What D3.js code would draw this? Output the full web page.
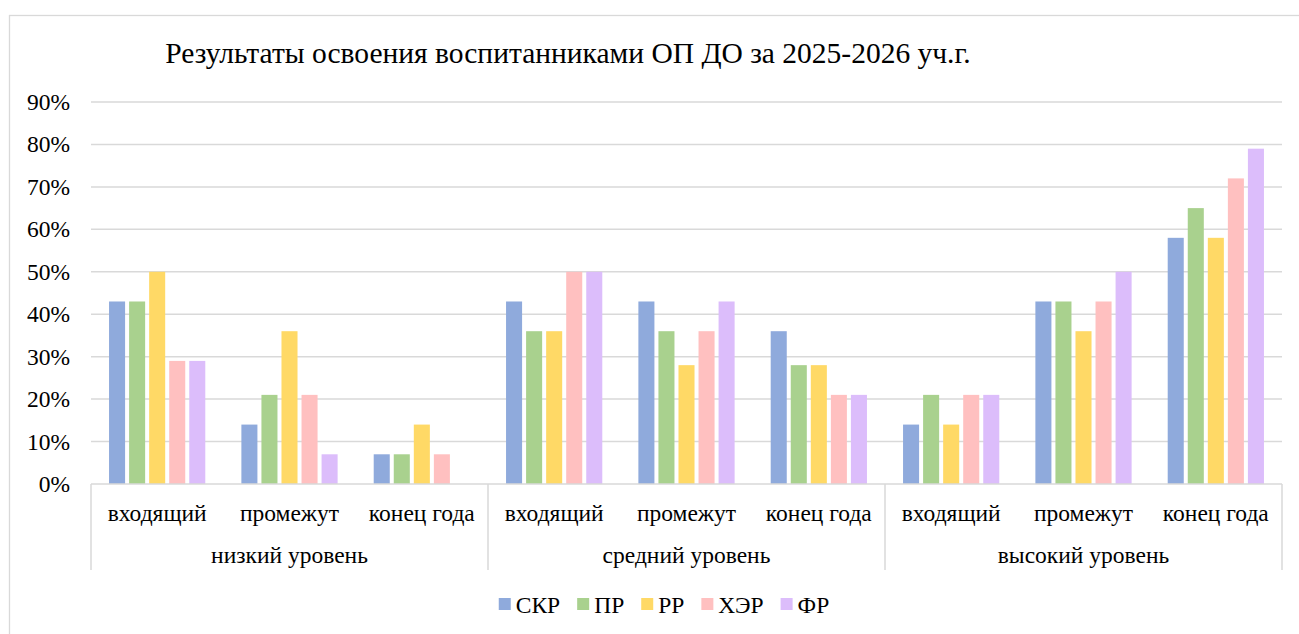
<!DOCTYPE html>
<html>
<head>
<meta charset="utf-8">
<script src="https://cdn.jsdelivr.net/npm/d3@7"></script>
<style>
  body { margin: 0; background: #fff; }
  svg { display: block; }
  svg text { font-family: 'Liberation Serif', 'Times New Roman', serif !important; }
</style>
</head>
<body>
<svg id="chart" width="1299" height="634"></svg>
<script>
const title = 'Результаты освоения воспитанниками ОП ДО за 2025-2026 уч.г.'
const levels = ['низкий уровень', 'средний уровень', 'высокий уровень']
const stages = ['входящий', 'промежут', 'конец года']
const seriesNames = ['СКР', 'ПР', 'РР', 'ХЭР', 'ФР']
const colors = ['#8faadc', '#a9d18e', '#ffd966', '#ffc0c0', '#dcbdfb']
const yTicks = [0, 0.1, 0.2, 0.3, 0.4, 0.5, 0.6, 0.7, 0.8, 0.9]

// values per series, ordered level by level, stage by stage
const skr = [0.43, 0.14, 0.07, 0.43, 0.43, 0.36, 0.14, 0.43, 0.58]
const pr = [0.43, 0.21, 0.07, 0.36, 0.36, 0.28, 0.21, 0.43, 0.65]
const rr = [0.50, 0.36, 0.14, 0.36, 0.28, 0.28, 0.14, 0.36, 0.58]
const hr = [0.29, 0.21, 0.07, 0.50, 0.36, 0.21, 0.21, 0.43, 0.72]
const fr = [0.29, 0.07, 0.00, 0.50, 0.43, 0.21, 0.21, 0.50, 0.79]
const seriesValues = [skr, pr, rr, hr, fr]

const serif = "'Liberation Serif', 'Times New Roman', serif"
const svg = d3.select('#chart')

const plotLeft = 91
const plotRight = 1282
const plotTop = 102
const plotBottom = 484
const gridColor = '#d9d9d9'
const fontSize = 23.5

// outer frame
svg.append('rect')
  .attr('x', 9.5).attr('y', 15.5)
  .attr('width', 1300).attr('height', 640)
  .attr('fill', 'none')
  .attr('stroke', gridColor)
  .attr('stroke-width', 1.3)

svg.append('text')
  .attr('x', 568).attr('y', 63)
  .attr('text-anchor', 'middle')
  .attr('font-family', serif)
  .style('font-size', '29.5px')
  .text(title)

const yScale = d3.scaleLinear().domain([0, 0.9]).range([plotBottom, plotTop])

const x0 = d3.scaleBand().domain(levels).range([plotLeft, plotRight]).padding(0)
const x1 = d3.scaleBand().domain(stages).range([0, x0.bandwidth()]).padding(0)
const x2 = d3.scaleBand().domain(seriesNames).range([0, x1.bandwidth()])
  .paddingInner(0.2).paddingOuter(0.9)

// grid lines
svg.append('g')
  .selectAll('line')
  .data(yTicks.slice(1))
  .join('line')
  .attr('x1', plotLeft).attr('x2', plotRight)
  .attr('y1', (d) => yScale(d)).attr('y2', (d) => yScale(d))
  .attr('stroke', gridColor)
  .attr('stroke-width', 1.5)

// y axis labels
const axisY = d3.axisLeft(yScale)
  .tickValues(yTicks)
  .tickFormat(d3.format('.0%'))
  .tickSize(0)
  .tickPadding(21)

svg.append('g')
  .attr('transform', `translate(${plotLeft}, 0)`)
  .call(axisY)
  .attr('font-family', serif)
  .attr('font-size', fontSize)
  .call((g) => g.select('.domain').remove())
  .selectAll('text')
  .attr('fill', '#000')

// bars
const cells = []
levels.forEach((level, li) => {
  stages.forEach((stage, si) => {
    seriesNames.forEach((name, ki) => {
      cells.push({ level, stage, name, color: colors[ki], value: seriesValues[ki][li * 3 + si] })
    })
  })
})

svg.append('g')
  .selectAll('rect')
  .data(cells.filter((d) => d.value > 0))
  .join('rect')
  .attr('x', (d) => x0(d.level) + x1(d.stage) + x2(d.name))
  .attr('y', (d) => yScale(d.value))
  .attr('width', x2.bandwidth())
  .attr('height', (d) => plotBottom - yScale(d.value))
  .attr('fill', (d) => d.color)

// category axis
const catAxis = svg.append('g')
  .attr('font-family', serif)
  .attr('font-size', fontSize)

catAxis.append('line')
  .attr('x1', plotLeft).attr('x2', plotRight)
  .attr('y1', plotBottom).attr('y2', plotBottom)
  .attr('stroke', gridColor)
  .attr('stroke-width', 1.5)

const seps = levels.map((l) => x0(l)).concat([plotRight])
catAxis.selectAll('line.sep')
  .data(seps)
  .join('line')
  .attr('class', 'sep')
  .attr('x1', (d) => d).attr('x2', (d) => d)
  .attr('y1', plotBottom).attr('y2', 570)
  .attr('stroke', gridColor)
  .attr('stroke-width', 1.5)

levels.forEach((level) => {
  catAxis.append('g')
    .selectAll('text')
    .data(stages)
    .join('text')
    .attr('x', (d) => x0(level) + x1(d) + x1.bandwidth() / 2)
    .attr('y', 521)
    .attr('text-anchor', 'middle')
    .text((d) => d)
})

catAxis.selectAll('text.level')
  .data(levels)
  .join('text')
  .attr('class', 'level')
  .attr('x', (d) => x0(d) + x0.bandwidth() / 2)
  .attr('y', 563)
  .attr('text-anchor', 'middle')
  .text((d) => d)

// legend
const legend = svg.append('g')
  .attr('font-family', serif)
  .attr('font-size', fontSize)

const items = legend.selectAll('g')
  .data(seriesNames)
  .join('g')

items.append('rect')
  .attr('width', 12).attr('height', 12)
  .attr('y', -8)
  .attr('fill', (d, i) => colors[i])

items.append('text')
  .attr('x', 17)
  .attr('y', 7)
  .text((d) => d)

let lx = 0
items.each(function () {
  const w = this.querySelector('text').getComputedTextLength()
  d3.select(this).attr('transform', `translate(${lx}, 0)`)
  lx += 17 + w + 17
})
const total = lx - 17
legend.attr('transform', `translate(${664 - total / 2}, 606)`)
</script>
</body>
</html>
